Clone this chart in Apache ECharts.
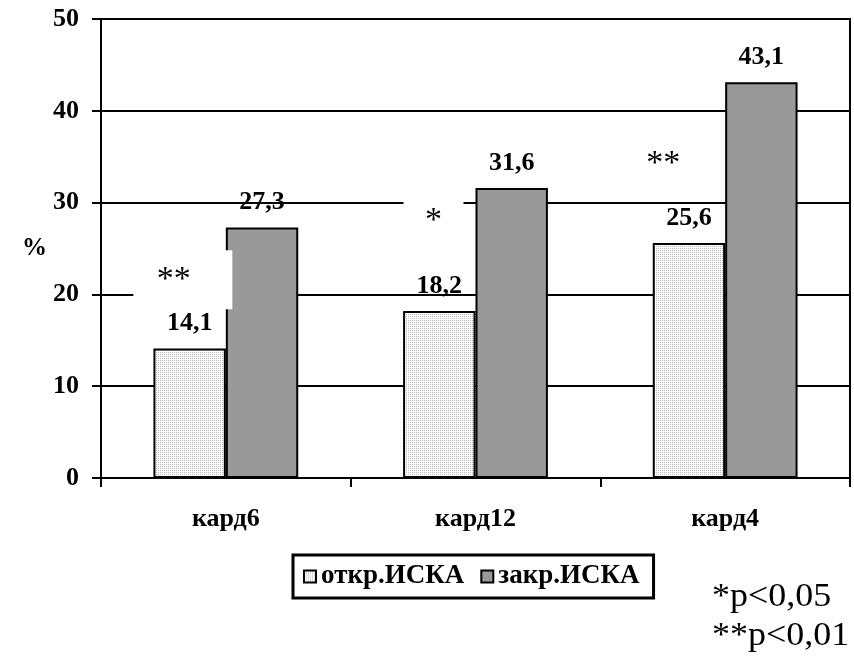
<!DOCTYPE html>
<html>
<head>
<meta charset="utf-8">
<script src="https://cdn.jsdelivr.net/npm/echarts@6/dist/echarts.min.js"></script>
<style>html,body{margin:0;padding:0;background:#fff}#c{width:854px;height:663px}</style>
</head>
<body>
<div id="c"></div>
<script>
var categories = ['кард6', 'кард12', 'кард4'];
var seriesNames = ['откр.ИСКА', 'закр.ИСКА'];
var openValues = [14.1, 18.2, 25.6];
var closedValues = [27.3, 31.6, 43.1];
var yTicks = [0, 10, 20, 30, 40, 50];
var sigMarks = ['**', '*', '**'];
var sigLevels = [21.6, 28.0, 34.2];
var notes = ['*p<0,05', '**p<0,01'];

var FONT = "'Liberation Serif', 'Times New Roman', serif";

var pc = document.createElement('canvas');
pc.width = 2; pc.height = 2;
var pctx = pc.getContext('2d');
pctx.fillStyle = '#ffffff'; pctx.fillRect(0, 0, 2, 2);
pctx.fillStyle = '#b8b8b8'; pctx.fillRect(0, 0, 1, 1);
var dotted = { image: pc, repeat: 'repeat' };

var boxSizes = [[99, 59], [60, 40], [70, 40]];
var boxOffsets = [[-43, 0], [-42, 0], [-62, 0]];
var textOffsets = [[-9, 0], [0, 0], [0, 0]];

var sigData = sigMarks.map(function (m, i) {
  return {
    value: [i, sigLevels[i]],
    symbolSize: boxSizes[i],
    symbolOffset: boxOffsets[i],
    label: { formatter: m, offset: textOffsets[i] }
  };
});

var valueLabel = {
  show: true, position: 'top', distance: 12,
  color: '#000', fontFamily: FONT, fontWeight: 'bold', fontSize: 26,
  formatter: function (p) { return String(p.value).replace('.', ','); }
};

var chart = echarts.init(document.getElementById('c'));
chart.setOption({
  animation: false,
  backgroundColor: '#fff',
  grid: { left: 101, right: 4, top: 19, bottom: 185, show: true, borderColor: '#000', borderWidth: 2, backgroundColor: 'transparent' },
  legend: {
    data: seriesNames,
    left: 293, top: 555,
    padding: [8, 14, 8, 10],
    itemGap: 16,
    itemWidth: 12, itemHeight: 12,
    icon: 'rect',
    borderColor: '#000', borderWidth: 3,
    itemStyle: { borderColor: '#000', borderWidth: 2 },
    textStyle: { color: '#000', fontFamily: FONT, fontWeight: 'bold', fontSize: 27 },
    selectedMode: false
  },
  xAxis: {
    type: 'category',
    data: categories,
    axisLine: { lineStyle: { color: '#000', width: 2 } },
    axisTick: { show: true, length: 9, lineStyle: { color: '#000', width: 2 } },
    axisLabel: { color: '#000', fontFamily: FONT, fontWeight: 'bold', fontSize: 26, margin: 28 },
    splitLine: { show: false }
  },
  yAxis: {
    type: 'value',
    min: yTicks[0], max: yTicks[yTicks.length - 1], interval: 10,
    name: '%', nameLocation: 'middle', nameRotate: 0, nameGap: 52,
    nameTextStyle: { color: '#000', fontFamily: FONT, fontWeight: 'bold', fontSize: 25 },
    axisLine: { show: true, lineStyle: { color: '#000', width: 2 } },
    axisTick: { show: true, length: 9, lineStyle: { color: '#000', width: 2 } },
    axisLabel: { color: '#000', fontFamily: FONT, fontWeight: 'bold', fontSize: 26, margin: 22 },
    splitLine: { show: true, lineStyle: { color: '#000', width: 2 } }
  },
  series: [
    {
      name: seriesNames[0], type: 'bar', data: openValues,
      barGap: '0%', barCategoryGap: '42%',
      itemStyle: { color: dotted, borderColor: '#000', borderWidth: 2 },
      label: valueLabel, silent: true
    },
    {
      name: seriesNames[1], type: 'bar', data: closedValues,
      barGap: '0%', barCategoryGap: '42%',
      itemStyle: { color: '#999999', borderColor: '#000', borderWidth: 2 },
      label: valueLabel, silent: true
    },
    {
      name: 'sig', type: 'scatter', data: sigData, z: 5, silent: true,
      symbol: 'rect',
      itemStyle: { color: '#ffffff', opacity: 1 },
      label: { show: true, position: 'inside', color: '#000', fontFamily: FONT, fontSize: 34 },
      emphasis: { disabled: true }
    }
  ],
  graphic: notes.map(function (t, i) {
    return {
      type: 'text', x: 712, y: 581 + i * 39, scaleX: 1.09, silent: true,
      style: { text: t, fill: '#000', font: '33px ' + FONT, verticalAlign: 'top' }
    };
  })
});
</script>
</body>
</html>
